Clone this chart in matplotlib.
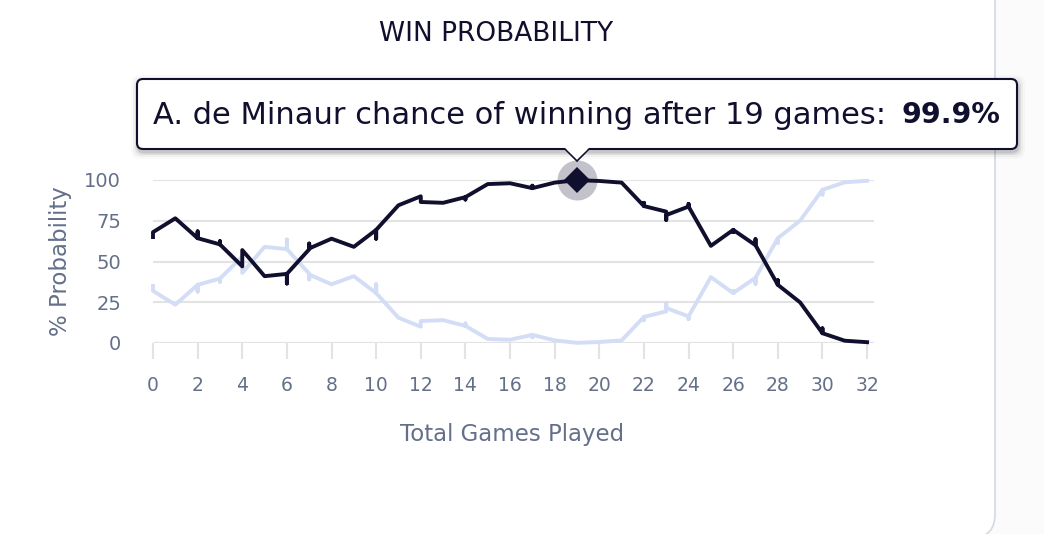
import matplotlib
matplotlib.use("Agg")
import matplotlib.pyplot as plt
from matplotlib.patches import FancyBboxPatch, Polygon

W, H = 1044, 534

# Games played, with repeats where the feed gave several values for one game
games = [0, 0, 1, 2, 2, 2, 3, 3, 3, 4, 4, 5, 6, 6, 6, 7, 7, 7, 8, 9, 10, 10, 10, 11, 12, 12,
         13, 14, 14, 14, 15, 16, 17, 17, 17, 18, 19, 20, 21, 22, 22, 22, 23, 23, 23, 24, 24, 24,
         25, 26, 26, 26, 27, 27, 27, 28, 28, 28, 29, 30, 30, 30, 31, 32]
de_minaur = [65, 68, 76.5, 64.3, 68.5, 64.3, 60.5, 62.5, 60.5, 47, 57, 41, 42.4, 36.5, 42.4, 57.5, 61, 58,
             64, 59, 69.4, 64, 69.4, 84.5, 90, 86.5,
             86, 89.5, 88, 89.5, 97.5, 98, 95, 96.5, 95, 98.4, 99.9, 99.4, 98.4, 84, 86, 84, 80.6, 75.5, 78.5,
             83.7, 85.3, 83.7,
             59.6, 69.4, 68, 69.4, 60, 63.7, 60, 35.7, 38.5, 35.7, 24.9, 6, 9, 6, 1.4, 0.5]
opponent = [35, 32, 23.5, 35.7, 31.5, 35.7, 39.5, 37.5, 39.5, 53, 43, 59, 57.6, 63.5, 57.6, 42.5, 39, 42,
            36, 41, 30.6, 36, 30.6, 15.5, 10, 13.5,
            14, 10.5, 12, 10.5, 2.5, 2, 5, 3.5, 5, 1.6, 0.1, 0.6, 1.6, 16, 14, 16, 19.4, 24.5, 21.5,
            16.3, 14.7, 16.3,
            40.4, 30.6, 32, 30.6, 40, 36.3, 40, 64.3, 61.5, 64.3, 75.1, 94, 91, 94, 98.6, 99.5]
hover_game = 19
hover_value = 99.9

x_ticks = list(range(0, 33, 2))
y_ticks = [0, 25, 50, 75, 100]

title = "WIN PROBABILITY"
x_label = "Total Games Played"
y_label = "% Probability"
tooltip_text = "A. de Minaur chance of winning after 19 games:"
tooltip_value = "99.9%"

NAVY = "#100f2e"
PALE = "#d3ddf5"
GRID = "#e3e3e3"
SLATE = "#64708a"

plt.rcParams["font.family"] = ["DejaVu Sans"]

fig = plt.figure(figsize=(W / 100, H / 100), dpi=100, facecolor="#fbfbfc")

# Layer in picture pixels for the card and the tooltip
bg = fig.add_axes([0, 0, 1, 1], zorder=0)
bg.set_xlim(0, W)
bg.set_ylim(H, 0)
bg.axis("off")
bg.add_patch(FancyBboxPatch((-40, -40), 1035, 578, boxstyle="round,pad=0,rounding_size=24",
                            fc="white", ec="#d3d8e2", lw=1.2))

ax = fig.add_axes([153 / W, 1 - 343 / H, (874 - 153) / W, (343 - 180) / H], zorder=1)
ax.patch.set_alpha(0)
ax.set_xlim(0, 32.31)
ax.set_ylim(0, 100)
for s in ax.spines.values():
    s.set_visible(False)
ax.set_axisbelow(True)
ax.grid(axis="y", color=GRID, lw=1.5)
ax.axhline(0, color=GRID, lw=1.5, zorder=0)
ax.set_xticks(x_ticks)
ax.set_yticks(y_ticks)
ax.tick_params(axis="x", length=11.5, width=1.5, color=GRID, labelcolor=SLATE, labelsize=13.5, pad=12)
ax.tick_params(axis="y", length=0, labelcolor=SLATE, labelsize=14, pad=23)

ax.plot(games, opponent, color=PALE, lw=2.8, solid_joinstyle="round", clip_on=False, zorder=2)
ax.plot(games, de_minaur, color=NAVY, lw=2.8, solid_joinstyle="round", clip_on=False, zorder=3)
ax.plot([hover_game], [hover_value], "o", ms=28.8, color=NAVY, alpha=0.25, mew=0, clip_on=False, zorder=4)
ax.plot([hover_game], [hover_value], "D", ms=13.5, color=NAVY, mew=0, clip_on=False, zorder=5)

fig.text(496 / W, 1 - 34 / H, title, ha="center", va="center", fontsize=19, color=NAVY)
fig.text(512 / W, 1 - 434 / H, x_label, ha="center", va="center", fontsize=16.5, color=SLATE)
fig.text(60 / W, 1 - 261 / H, y_label, ha="center", va="center", rotation=90, fontsize=16.5, color=SLATE)

# Tooltip on top of everything
top = fig.add_axes([0, 0, 1, 1], zorder=3)
top.set_xlim(0, W)
top.set_ylim(H, 0)
top.axis("off")
for grow, alpha in [(7, 0.02), (5, 0.04), (3, 0.07), (1.5, 0.1)]:
    top.add_patch(FancyBboxPatch((137 - grow + 1, 79 - grow + 3), 880 + 2 * grow, 70 + 2 * grow,
                                 boxstyle="round,pad=0,rounding_size=8", fc="black", ec="none", alpha=alpha))
top.add_patch(FancyBboxPatch((137, 79), 880, 70, boxstyle="round,pad=0,rounding_size=6",
                             fc="white", ec=NAVY, lw=1.5))
top.add_patch(Polygon([(565, 149), (577, 161), (589, 149)], closed=True, fc="white", ec=NAVY, lw=1.2))
top.add_patch(Polygon([(564, 147), (590, 147), (577, 159)], closed=True, fc="white", ec="none"))
top.text(153, 115, tooltip_text, ha="left", va="center", fontsize=22, color=NAVY)
top.text(1000, 115, tooltip_value, ha="right", va="center", fontsize=20.5, color=NAVY, fontweight="bold")

fig.savefig("out.png", dpi=100, facecolor=fig.get_facecolor())
